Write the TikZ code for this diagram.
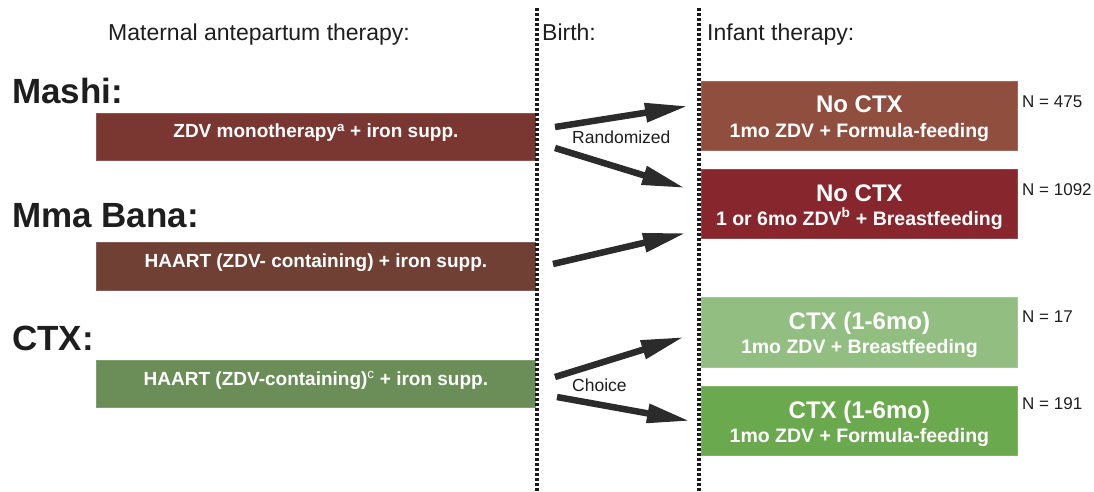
\documentclass[tikz,border=0pt]{standalone}
\usepackage{fontspec}
\setmainfont{Liberation Sans}
\usetikzlibrary{arrows.meta}
\definecolor{cLone}{RGB}{122,54,48}
\definecolor{cLtwo}{RGB}{112,64,53}
\definecolor{cLthree}{RGB}{107,142,88}
\definecolor{cRone}{RGB}{144,78,63}
\definecolor{cRtwo}{RGB}{136,38,45}
\definecolor{cRthree}{RGB}{146,190,130}
\definecolor{cRfour}{RGB}{107,169,78}
\definecolor{ink}{RGB}{30,30,30}
\definecolor{dotink}{RGB}{25,25,25}
\definecolor{arrowink}{RGB}{43,43,43}
\begin{document}
\begin{tikzpicture}[x=1pt,y=-1pt,
  box/.style={rectangle, fill=#1, draw=#1!85!white, line width=0.8pt,
    anchor=north west, inner sep=0pt},
  lbox/.style={box=#1, minimum width=439pt, minimum height=47pt},
  rbox/.style={box=#1, minimum width=316pt, minimum height=69pt},
  boxtxt/.style={text=white, inner sep=0pt, anchor=base,
    font=\bfseries\fontsize{19}{23}\selectfont},
  bigtxt/.style={text=white, inner sep=0pt, anchor=base,
    font=\bfseries\fontsize{24}{28}\selectfont},
  smalltxt/.style={text=white, inner sep=0pt, anchor=base,
    font=\bfseries\fontsize{19.5}{23}\selectfont},
  header/.style={text=ink, inner sep=0pt, anchor=base west,
    font=\fontsize{23}{27}\selectfont},
  study/.style={text=ink, inner sep=0pt, anchor=base west,
    font=\bfseries\fontsize{35}{40}\selectfont},
  ncount/.style={text=ink, inner sep=0pt, anchor=base west,
    font=\fontsize{17}{20}\selectfont},
  armtxt/.style={text=ink, inner sep=0pt, anchor=base west,
    font=\fontsize{17.5}{20}\selectfont},
  dotline/.style={draw=dotink, line width=3.6pt, dash pattern=on 3pt off 2pt},
  fatarrow/.style={draw=arrowink, line width=6.5pt,
    -{Triangle[length=43pt,width=18pt]}, fill=arrowink}
]
\useasboundingbox (0,0) rectangle (1094,492);

% headers
\node[header] (hmat) at (108,41) {Maternal antepartum therapy:};
\node[header] (hbirth) at (542,41) {Birth:};
\node[header] (hinf) at (707,41) {Infant therapy:};

% study labels
\node[study] (smashi) at (12,103) {Mashi:};
\node[study] (smma) at (12,227) {Mma Bana:};
\node[study] (sctx) at (12,350) {CTX:};

% maternal boxes
\node[lbox=cLone] (L1) at (96,113) {};
\node[lbox=cLtwo, minimum height=48pt] (L2) at (96,242) {};
\node[lbox=cLthree] (L3) at (96,360) {};
\node[boxtxt] (L1t) at ([yshift=-25pt]L1.north) {ZDV monotherapy\textsuperscript{a} + iron supp.};
\node[boxtxt] (L2t) at ([yshift=-25pt]L2.north) {HAART (ZDV- containing) + iron supp.};
\node[boxtxt] (L3t) at ([yshift=-25pt]L3.north) {HAART (ZDV-containing)\textsuperscript{\mdseries c} + iron supp.};

% infant boxes
\node[rbox=cRone] (R1) at (701,81) {};
\node[rbox=cRtwo] (R2) at (701,169) {};
\node[rbox=cRthree, minimum height=70pt] (R3) at (701,297) {};
\node[rbox=cRfour] (R4) at (701,386) {};
\node[bigtxt] (R1a) at ([yshift=-32pt]R1.north) {No CTX};
\node[smalltxt] (R1b) at ([yshift=-56pt]R1.north) {1mo ZDV + Formula-feeding};
\node[bigtxt] (R2a) at ([yshift=-32pt]R2.north) {No CTX};
\node[smalltxt] (R2b) at ([yshift=-56pt]R2.north) {1 or 6mo ZDV\textsuperscript{b} + Breastfeeding};
\node[bigtxt] (R3a) at ([yshift=-32pt]R3.north) {CTX (1-6mo)};
\node[smalltxt] (R3b) at ([yshift=-56pt]R3.north) {1mo ZDV + Breastfeeding};
\node[bigtxt] (R4a) at ([yshift=-32pt]R4.north) {CTX (1-6mo)};
\node[smalltxt] (R4b) at ([yshift=-56pt]R4.north) {1mo ZDV + Formula-feeding};

% N counts
\node[ncount] (n1) at (1022,107) {N = 475};
\node[ncount] (n2) at (1022,195) {N = 1092};
\node[ncount] (n3) at (1022,322) {N = 17};
\node[ncount] (n4) at (1022,409) {N = 191};

% dotted separators
\coordinate (d1top) at (537,8);
\coordinate (d1bot) at (537,492);
\coordinate (d2top) at (699,8);
\coordinate (d2bot) at (699,492);
\draw[dotline] (d1top) -- (d1bot);
\draw[dotline] (d2top) -- (d2bot);

% arrows
\coordinate (a1s) at (555,127); \coordinate (a1e) at (688,106);
\coordinate (a2s) at (555,148); \coordinate (a2e) at (685,188);
\coordinate (a3s) at (553,264); \coordinate (a3e) at (686,233);
\coordinate (a4s) at (555,377); \coordinate (a4e) at (684,337);
\coordinate (a5s) at (557,397); \coordinate (a5e) at (690,421);
\draw[fatarrow] (a1s) -- (a1e);
\draw[fatarrow] (a2s) -- (a2e);
\draw[fatarrow] (a3s) -- (a3e);
\draw[fatarrow] (a4s) -- (a4e);
\draw[fatarrow] (a5s) -- (a5e);

\node[armtxt] (rand) at (572,143) {Randomized};
\node[armtxt] (choice) at (572,391) {Choice};
\end{tikzpicture}
\end{document}
